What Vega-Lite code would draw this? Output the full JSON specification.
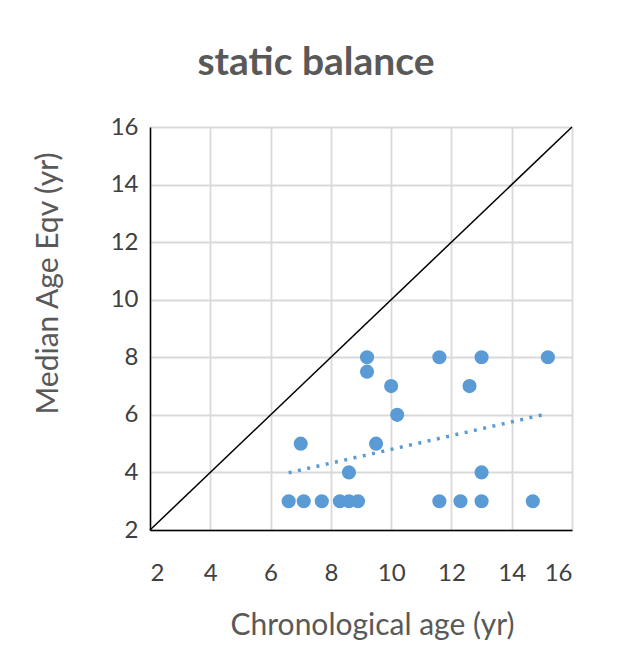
{
  "$schema": "https://vega.github.io/schema/vega-lite/v6.json",
  "autosize": "none",
  "width": 422,
  "height": 403,
  "padding": {"left": 150, "top": 127, "right": 47, "bottom": 120},
  "background": "white",
  "config": {
    "view": {"stroke": null},
    "font": "Lato"
  },
  "title": {
    "text": "static balance",
    "anchor": "middle",
    "dx": -45,
    "offset": 32,
    "fontSize": 39,
    "fontWeight": "bold",
    "color": "#595959",
    "font": "Lato"
  },
  "data": {
    "values": [
      {"age": 9.2, "eqv": 8},
      {"age": 9.2, "eqv": 7.5},
      {"age": 11.6, "eqv": 8},
      {"age": 13.0, "eqv": 8},
      {"age": 15.2, "eqv": 8},
      {"age": 10.0, "eqv": 7},
      {"age": 12.6, "eqv": 7},
      {"age": 10.2, "eqv": 6},
      {"age": 7.0, "eqv": 5},
      {"age": 9.5, "eqv": 5},
      {"age": 8.6, "eqv": 4},
      {"age": 13.0, "eqv": 4},
      {"age": 6.6, "eqv": 3},
      {"age": 7.1, "eqv": 3},
      {"age": 7.7, "eqv": 3},
      {"age": 8.3, "eqv": 3},
      {"age": 8.6, "eqv": 3},
      {"age": 8.9, "eqv": 3},
      {"age": 11.6, "eqv": 3},
      {"age": 12.3, "eqv": 3},
      {"age": 13.0, "eqv": 3},
      {"age": 14.7, "eqv": 3}
    ]
  },
  "encoding": {
    "x": {
      "field": "age",
      "type": "quantitative",
      "scale": {"domain": [2, 16], "nice": false, "zero": false},
      "axis": {
        "title": "Chronological age (yr)",
        "values": [2, 4, 6, 8, 10, 12, 14, 16],
        "grid": true,
        "gridColor": "#d9d9d9",
        "gridWidth": 1.8,
        "domainColor": "#000000",
        "domainWidth": 1.5,
        "ticks": false,
        "labelPadding": 31,
        "labelFontSize": 24,
        "labelColor": "#404040",
        "labelFont": "Lato",
        "titleFontSize": 30,
        "titleFontWeight": "normal",
        "titleColor": "#595959",
        "titleFont": "Lato",
        "titleX": 222,
        "titleY": 80,
        "titleAnchor": null
      }
    },
    "y": {
      "field": "eqv",
      "type": "quantitative",
      "scale": {"domain": [2, 16], "nice": false, "zero": false},
      "axis": {
        "title": "Median Age Eqv (yr)",
        "values": [2, 4, 6, 8, 10, 12, 14, 16],
        "grid": true,
        "gridColor": "#d9d9d9",
        "gridWidth": 1.8,
        "domainColor": "#000000",
        "domainWidth": 1.5,
        "ticks": false,
        "labelPadding": 12,
        "labelFontSize": 24,
        "labelColor": "#404040",
        "labelFont": "Lato",
        "titleFontSize": 30,
        "titleFontWeight": "normal",
        "titleColor": "#595959",
        "titleFont": "Lato",
        "titleX": -87,
        "titleY": 156,
        "titleAnchor": null
      }
    }
  },
  "layer": [
    {
      "data": {"values": [{"age": 2, "eqv": 2}, {"age": 16, "eqv": 16}]},
      "mark": {"type": "line", "color": "#000000", "strokeWidth": 1.5}
    },
    {
      "mark": {"type": "circle", "color": "#5B9BD5", "opacity": 1, "size": 200}
    },
    {
      "transform": [{"regression": "eqv", "on": "age"}],
      "mark": {"type": "line", "color": "#5B9BD5", "strokeWidth": 3.5, "strokeDash": [3, 6.5]}
    }
  ]
}
